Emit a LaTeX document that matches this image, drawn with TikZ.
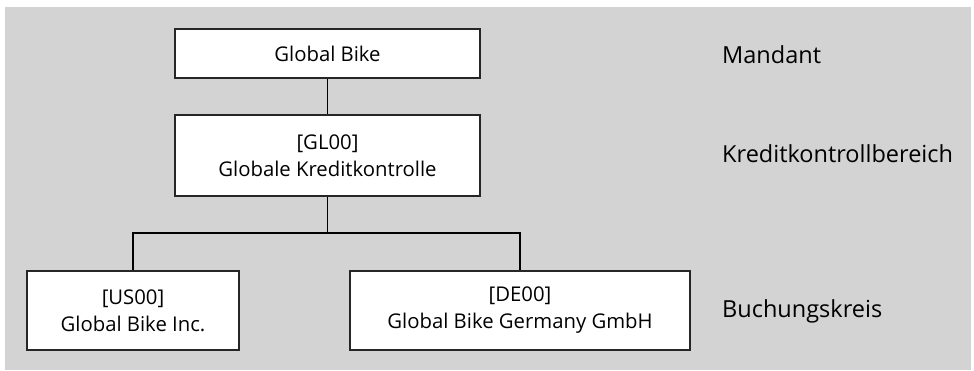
\documentclass[tikz,border=0pt]{standalone}
\usepackage{fontspec}
\setmainfont{Open Sans}
\begin{document}
\begin{tikzpicture}[x=1pt,y=-1pt,
  orgbox/.style={draw=black!85, line width=1.5pt, fill=white, inner sep=0pt,
    align=center, font=\fontsize{20.3}{27}\selectfont},
  levellabel/.style={anchor=west, inner sep=0pt, font=\fontsize{23.5}{28}\selectfont},
  link/.style={line width=1.8pt, draw=black}]
  \useasboundingbox (0,0) rectangle (974,370);
  \fill[fill={rgb,255:red,211;green,211;blue,211}] (5,7) rectangle (971,370);

  % organisational units
  \node[orgbox, minimum width=305pt, minimum height=49pt] (client) at (327.5,53.5) {Global Bike};
  \node[orgbox, minimum width=305pt, minimum height=81pt] (cca) at (327.5,155.5) {[GL00]\\Globale Kreditkontrolle};
  \node[orgbox, minimum width=212pt, minimum height=79pt] (us) at (133,310.5) {[US00]\\Global Bike Inc.};
  \node[orgbox, minimum width=340pt, minimum height=79pt] (de) at (520,310.5) {[DE00]\\Global Bike Germany GmbH};

  % hierarchy levels
  \node[levellabel] (l1) at (722,55) {Mandant};
  \node[levellabel] (l2) at (722,154) {Kreditkontrollbereich};
  \node[levellabel] (l3) at (722,311) {Buchungskreis};

  % connectors
  \coordinate (fork) at (327.5,233);
  \draw[link] (client.south) -- (cca.north);
  \draw[link] (cca.south) -- (fork);
  \draw[link] (us.north) |- (fork) -| (de.north);
\end{tikzpicture}
\end{document}
